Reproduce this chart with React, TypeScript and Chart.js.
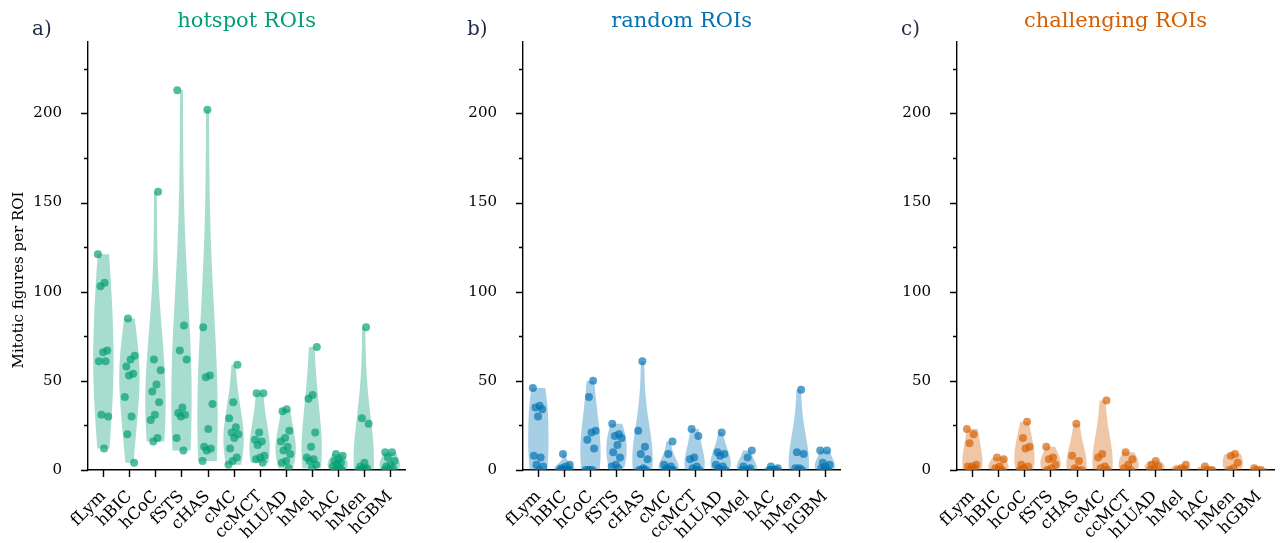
import React, { useEffect, useRef } from "react";
import { Chart, registerables } from "chart.js";

Chart.register(...registerables);

// ---------- data ----------
const CATEGORIES = ["fLym", "hBIC", "hCoC", "fSTS", "cHAS", "cMC", "ccMCT", "hLUAD", "hMel", "hAC", "hMen", "hGBM"];

const HOTSPOT_VALUES = [
  [121, 105, 103, 67, 66, 61, 61, 31, 30, 12],
  [85, 64, 62, 58, 54, 53, 41, 30, 20, 4],
  [156, 62, 56, 48, 44, 38, 31, 28, 18, 16],
  [213, 81, 67, 62, 35, 32, 31, 30, 18, 11],
  [202, 80, 53, 52, 37, 23, 13, 12, 11, 5],
  [59, 38, 29, 24, 21, 20, 18, 12, 7, 5, 3],
  [43, 43, 21, 17, 16, 14, 8, 7, 6, 4],
  [34, 33, 22, 18, 16, 13, 11, 9, 5, 4, 1],
  [69, 42, 40, 21, 13, 7, 6, 5, 3, 1],
  [9, 8, 6, 5, 4, 3, 2, 1, 0, 0],
  [80, 29, 26, 4, 2, 1, 1, 0, 0, 0],
  [10, 10, 7, 5, 3, 2, 1, 0, 0],
];

const RANDOM_VALUES = [
  [46, 36, 35, 34, 30, 8, 7, 3, 2, 0],
  [9, 3, 2, 1, 0, 0, 0, 0, 0, 0],
  [50, 41, 22, 21, 17, 12, 0, 0, 0, 0],
  [26, 20, 19, 18, 14, 10, 7, 3, 2, 1],
  [61, 22, 13, 9, 6, 1, 0, 0, 0],
  [16, 9, 3, 2, 1, 0, 0, 0, 0],
  [23, 19, 7, 6, 2, 1, 0, 0],
  [21, 10, 9, 8, 3, 2, 1, 0, 0],
  [11, 7, 2, 1, 0, 0, 0],
  [2, 1, 0, 0, 0, 0],
  [45, 10, 9, 1, 1, 0, 0],
  [11, 11, 4, 3, 2, 1, 0, 0],
];

const CHALLENGING_VALUES = [
  [23, 20, 15, 3, 2, 2, 1, 0],
  [7, 6, 2, 1, 0, 0],
  [27, 18, 13, 12, 3, 2, 1, 0],
  [13, 7, 6, 3, 1, 0],
  [26, 8, 5, 1, 0, 0],
  [39, 9, 7, 2, 1, 0],
  [10, 6, 3, 1, 0],
  [5, 3, 2, 1, 0],
  [3, 1, 0, 0],
  [2, 0, 0],
  [9, 8, 4, 1, 0],
  [1, 0, 0],
];

const Y_TICKS = [0, 50, 100, 150, 200];
const Y_MINOR = [25, 75, 125, 175, 225];
const Y_MAX = 240;

const PANELS = [
  { letter: "a)", title: "hotspot ROIs", rgb: [2, 158, 115], values: HOTSPOT_VALUES, yLabel: true },
  { letter: "b)", title: "random ROIs", rgb: [1, 115, 178], values: RANDOM_VALUES, yLabel: false },
  { letter: "c)", title: "challenging ROIs", rgb: [213, 94, 0], values: CHALLENGING_VALUES, yLabel: false },
];

const FONT = "'DejaVu Serif', serif";
const CHART_LEFTS = [88, 522.7, 957];
const BW_ADJUST = 1.5;

// deterministic jitter (stripplot style)
function jitter(i: number, g: number) {
  const f = ((i * 0.6180339 + g * 0.371) % 1) - 0.5;
  return f * 0.42;
}

function kde(values: number[], grid: number) {
  const n = values.length;
  const mean = values.reduce((a, b) => a + b, 0) / n;
  const sd = Math.sqrt(values.reduce((a, b) => a + (b - mean) ** 2, 0) / (n - 1));
  const bw = sd * Math.pow(n, -1 / 5) * BW_ADJUST;
  const lo = Math.min(...values);
  const hi = Math.max(...values);
  const ys: number[] = [];
  const ds: number[] = [];
  for (let k = 0; k < grid; k++) {
    const y = lo + ((hi - lo) * k) / (grid - 1);
    let d = 0;
    for (const v of values) d += Math.exp(-0.5 * ((y - v) / bw) ** 2);
    ys.push(y);
    ds.push(d);
  }
  return { ys, ds, ok: sd > 0 && hi > lo };
}

function Panel({ idx }: { idx: number }) {
  const ref = useRef<HTMLCanvasElement | null>(null);
  const p = PANELS[idx];
  useEffect(() => {
    if (!ref.current) return;
    const [r, g, b] = p.rgb;
    const points: { x: number; y: number }[] = [];
    p.values.forEach((arr, gi) => arr.forEach((v, i) => points.push({ x: gi + jitter(i, gi), y: v })));

    const plugin = {
      id: "decor" + idx,
      beforeDatasetsDraw(chart: any) {
        const ctx = chart.ctx;
        const xs = chart.scales.x;
        const ys = chart.scales.y;
        ctx.save();
        ctx.fillStyle = `rgba(${r},${g},${b},0.35)`;
        p.values.forEach((arr, gi) => {
          const k = kde(arr, 100);
          if (!k.ok) return;
          const maxd = Math.max(...k.ds);
          ctx.beginPath();
          for (let j = 0; j < k.ys.length; j++) {
            const hw = (0.39 * k.ds[j]) / maxd;
            const px = xs.getPixelForValue(gi - hw);
            const py = ys.getPixelForValue(k.ys[j]);
            if (j === 0) ctx.moveTo(px, py);
            else ctx.lineTo(px, py);
          }
          for (let j = k.ys.length - 1; j >= 0; j--) {
            const hw = (0.39 * k.ds[j]) / maxd;
            ctx.lineTo(xs.getPixelForValue(gi + hw), ys.getPixelForValue(k.ys[j]));
          }
          ctx.closePath();
          ctx.fill();
        });
        ctx.restore();
      },
      afterDraw(chart: any) {
        const ctx = chart.ctx;
        const xs = chart.scales.x;
        const ys = chart.scales.y;
        const area = chart.chartArea;
        ctx.save();
        ctx.strokeStyle = "#000";
        ctx.lineWidth = 1.4;
        ctx.beginPath();
        [...Y_TICKS, ...Y_MINOR].forEach((v) => {
          const py = Math.round(ys.getPixelForValue(v)) + 0.5;
          const len = Y_TICKS.includes(v) ? 7 : 4;
          ctx.moveTo(area.left - len, py);
          ctx.lineTo(area.left, py);
        });
        CATEGORIES.forEach((_, i) => {
          const px = Math.round(xs.getPixelForValue(i)) + 0.5;
          ctx.moveTo(px, area.bottom);
          ctx.lineTo(px, area.bottom + 7);
        });
        ctx.stroke();

        ctx.fillStyle = `rgb(${r},${g},${b})`;
        ctx.font = `21px ${FONT}`;
        ctx.textAlign = "center";
        ctx.textBaseline = "alphabetic";
        ctx.fillText(p.title, (area.left + area.right) / 2, 27);

        ctx.fillStyle = "#1f2a48";
        ctx.font = `20px ${FONT}`;
        ctx.textAlign = "left";
        ctx.fillText(p.letter, area.left - 56, 35);

        if (p.yLabel) {
          ctx.fillStyle = "#000";
          ctx.font = `15px ${FONT}`;
          ctx.translate(19, 280);
          ctx.rotate(-Math.PI / 2);
          ctx.textAlign = "center";
          ctx.textBaseline = "middle";
          ctx.fillText("Mitotic figures per ROI", 0, 0);
        }
        ctx.restore();
      },
    };

    const chart = new Chart(ref.current, {
      type: "scatter",
      data: {
        datasets: [
          {
            data: points,
            backgroundColor: `rgba(${r},${g},${b},0.68)`,
            borderWidth: 0,
            pointRadius: 4,
            pointHoverRadius: 4,
          },
        ],
      },
      options: {
        responsive: false,
        animation: false,
        layout: { padding: { top: 42, right: 2, left: 0, bottom: 0 } },
        plugins: { legend: { display: false }, tooltip: { enabled: false } },
        scales: {
          x: {
            type: "linear",
            min: -0.59,
            max: 11.59,
            grid: { display: false },
            border: { display: true, color: "#000", width: 1.4 },
            afterBuildTicks: (s: any) => {
              s.ticks = CATEGORIES.map((_, i) => ({ value: i }));
            },
            afterFit: (s: any) => {
              s.height = 73;
            },
            ticks: {
              autoSkip: false,
              minRotation: 45,
              maxRotation: 45,
              padding: 9,
              color: "#000",
              font: { family: FONT, size: 16.5 },
              callback: (v: any) => CATEGORIES[v] ?? "",
            },
          },
          y: {
            min: 0,
            max: Y_MAX,
            grid: { display: false },
            border: { display: true, color: "#000", width: 1.4 },
            afterBuildTicks: (s: any) => {
              s.ticks = Y_TICKS.map((v) => ({ value: v }));
            },
            afterFit: (s: any) => {
              s.width = 88;
            },
            ticks: {
              padding: 18,
              color: "#000",
              font: { family: FONT, size: 15 },
              callback: (v: any) => String(v),
            },
          },
        },
      },
      plugins: [plugin],
    } as any);
    return () => chart.destroy();
  }, [idx]);

  return (
    <canvas
      ref={ref}
      width={413}
      height={543}
      style={{ position: "absolute", left: CHART_LEFTS[idx] - 88, top: 0, width: 413, height: 543 }}
    />
  );
}

export default function App() {
  return (
    <div style={{ position: "absolute", left: 0, top: 0, width: 1282, height: 543, overflow: "hidden", background: "#fff" }}>
      <Panel idx={0} />
      <Panel idx={1} />
      <Panel idx={2} />
    </div>
  );
}
